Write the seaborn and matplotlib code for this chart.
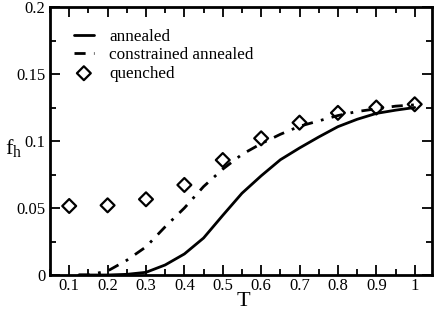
import numpy as np
import pandas as pd
import matplotlib
matplotlib.use("Agg")
import matplotlib.pyplot as plt
import seaborn as sns
from matplotlib.ticker import MultipleLocator

# ------------------------
# data
# ------------------------
T_line = [0.125, 0.15, 0.2, 0.25, 0.3, 0.35, 0.4, 0.45, 0.5, 0.55, 0.6,
          0.65, 0.7, 0.75, 0.8, 0.85, 0.9, 0.95, 1.0]
annealed = [0.0, 0.0, 0.0, 0.0005, 0.002, 0.0075, 0.0157, 0.0276, 0.0445,
            0.061, 0.074, 0.086, 0.0948, 0.103, 0.1107, 0.1162, 0.1206,
            0.123, 0.125]
constrained = [0.0, 0.0, 0.003, 0.011, 0.021, 0.036, 0.050, 0.066, 0.079,
               0.090, 0.098, 0.105, 0.111, 0.115, 0.119, 0.122, 0.124,
               0.126, 0.127]

T_q = [0.1, 0.2, 0.3, 0.4, 0.5, 0.6, 0.7, 0.8, 0.9, 1.0]
quenched = [0.0515, 0.052, 0.0565, 0.0672, 0.0858, 0.102, 0.1137, 0.121,
            0.125, 0.1274]

lines_df = pd.DataFrame({"T": T_line, "annealed": annealed,
                         "constrained": constrained})
q_df = pd.DataFrame({"T": T_q, "fh": quenched})

# ------------------------
# plot
# ------------------------
sns.set_style("ticks", {"axes.edgecolor": "black", "xtick.color": "black",
                        "ytick.color": "black", "text.color": "black",
                        "axes.labelcolor": "black"})
plt.rcParams["font.family"] = ["Liberation Serif", "DejaVu Serif"]

fig = plt.figure(figsize=(4.36, 3.10), dpi=100)
ax = fig.add_axes([0.1147, 0.1129, 0.8761, 0.8645])

sns.lineplot(data=lines_df, x="T", y="annealed", ax=ax, color="black",
             linewidth=2, label="annealed")
sns.lineplot(data=lines_df, x="T", y="constrained", ax=ax, color="black",
             linewidth=2, label="constrained annealed",
             linestyle=(0, (4, 3, 1, 3)))
sns.scatterplot(data=q_df, x="T", y="fh", ax=ax, marker="D", s=50,
                facecolor="none", edgecolor="black", linewidth=1.6,
                label="quenched", zorder=3)

ax.set_xlim(0.05, 1.045)
ax.set_ylim(0, 0.2)
ax.set_xticks([0.1, 0.2, 0.3, 0.4, 0.5, 0.6, 0.7, 0.8, 0.9, 1.0])
ax.set_xticklabels(["0.1", "0.2", "0.3", "0.4", "0.5", "0.6", "0.7",
                    "0.8", "0.9", "1"])
ax.set_yticks([0, 0.05, 0.1, 0.15, 0.2])
ax.set_yticklabels(["0", "0.05", "0.1", "0.15", "0.2"])
ax.xaxis.set_minor_locator(MultipleLocator(0.05))
ax.yaxis.set_minor_locator(MultipleLocator(0.025))
ax.tick_params(which="both", direction="in", top=True, right=True,
               labelsize=12, width=1.3, colors="black")
ax.tick_params(axis="x", which="major", pad=2)
ax.tick_params(which="major", length=7)
ax.tick_params(which="minor", length=4)
for sp in ax.spines.values():
    sp.set_linewidth(2)
    sp.set_color("black")

ax.set_xlabel("T", fontsize=16, va="top")
ax.xaxis.set_label_coords(0.505, -0.062)
ax.set_ylabel("f$_\\mathregular{h}$", fontsize=16, rotation=0, va="center")
ax.yaxis.set_label_coords(-0.094, 0.47)

leg = ax.legend(loc="upper left", frameon=False, fontsize=12.3,
                handlelength=1.15, handletextpad=0.9, labelspacing=0.15,
                bbox_to_anchor=(0.045, 0.945), borderaxespad=0)

fig.savefig("out.png", dpi=100)
